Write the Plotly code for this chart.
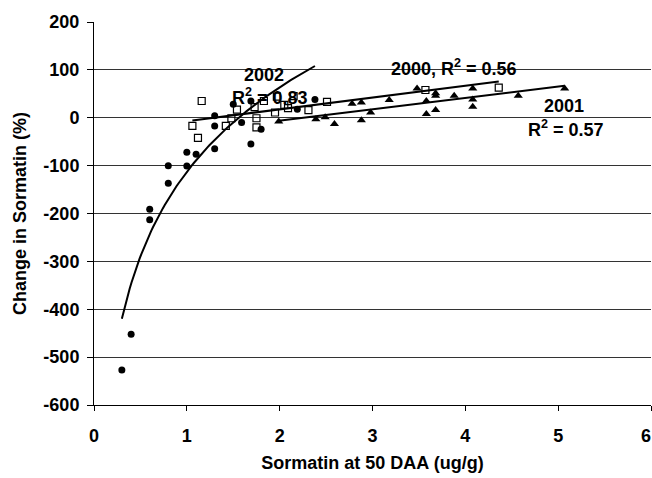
import numpy as np
import plotly.graph_objects as go

# 2002 (filled circles)
x2002 = [0.30, 0.40, 0.60, 0.60, 0.80, 0.80, 1.00, 1.00, 1.10, 1.30, 1.30, 1.30, 1.50, 1.59, 1.69, 1.69, 1.80, 2.19, 2.38]
y2002 = [-527, -452, -191, -213, -100, -137, -72, -101, -76, 4, -17, -65, 28, -10, 35, -55, -24, 18, 38]

# 2000 (open squares)
x2000 = [1.06, 1.12, 1.16, 1.42, 1.48, 1.54, 1.73, 1.75, 1.75, 1.83, 1.95, 1.97, 2.05, 2.09, 2.15, 2.31, 2.51, 3.57, 4.36]
y2000 = [-17, -42, 35, -17, -1, 17, 22, -1, -20, 35, 11, 44, 27, 20, 45, 16, 33, 58, 63]

# 2001 (filled triangles)
x2001 = [1.99, 2.39, 2.49, 2.59, 2.78, 2.88, 2.88, 2.98, 3.18, 3.48, 3.58, 3.58, 3.68, 3.68, 3.68, 3.88, 4.08, 4.08, 4.08, 4.57, 5.07]
y2001 = [-8, -3, 1, -13, 29, 32, -5, 11, 37, 61, 35, 8, 51, 46, 16, 46, 61, 38, 23, 46, 61]

# logarithmic trendline of 2002: y = a + b*ln(x)
fit2002 = [-113, 255]

xticks = [0, 1, 2, 3, 4, 5, 6]
yticks = [200, 100, 0, -100, -200, -300, -400, -500, -600]

FONT = "Liberation Sans, Arial, sans-serif"
FS = 18

fig = go.Figure()

xs = np.linspace(min(x2002), max(x2002), 100)
fig.add_trace(go.Scatter(x=xs, y=fit2002[0] + fit2002[1] * np.log(xs), mode="lines",
                         line=dict(color="black", width=2), hoverinfo="skip"))
for xd, yd in [(x2000, y2000), (x2001, y2001)]:
    m, c = np.polyfit(xd, yd, 1)
    xl = np.array([min(xd), max(xd)])
    fig.add_trace(go.Scatter(x=xl, y=m * xl + c, mode="lines",
                             line=dict(color="black", width=2), hoverinfo="skip"))

fig.add_trace(go.Scatter(x=x2002, y=y2002, mode="markers",
                         marker=dict(symbol="circle", size=7, color="black")))
fig.add_trace(go.Scatter(x=x2000, y=y2000, mode="markers",
                         marker=dict(symbol="square-open", size=7, color="black",
                                     line=dict(width=1.2, color="black"))))
fig.add_trace(go.Scatter(x=x2001, y=y2001, mode="markers",
                         marker=dict(symbol="triangle-up", size=8, color="black")))

ann = dict(showarrow=False, font=dict(family=FONT, size=FS, color="black"),
           xref="x", yref="y")
fig.add_annotation(x=1.83, y=89, text="<b>2002</b>", **ann)
fig.add_annotation(x=1.90, y=45, text="<b>R<sup>2</sup> = 0.83</b>", **ann)
fig.add_annotation(x=3.88, y=104, text="<b>2000, R<sup>2</sup> = 0.56</b>", **ann)
fig.add_annotation(x=5.06, y=24, text="<b>2001</b>", **ann)
fig.add_annotation(x=5.08, y=-22, text="<b>R<sup>2</sup> = 0.57</b>", **ann)

# last x tick label sits at the page edge
xtext = ["<b>%d</b>" % v for v in xticks]
xtext[-1] = ""
fig.add_annotation(x=xticks[-1], y=0, xref="x", yref="paper", yanchor="top",
                   xanchor="right", xshift=2, yshift=-19, showarrow=False,
                   text="<b>%d</b>" % xticks[-1],
                   font=dict(family=FONT, size=FS, color="black"))

fig.update_layout(
    width=652, height=478,
    margin=dict(l=94, r=1, t=22, b=73),
    plot_bgcolor="white", paper_bgcolor="white",
    showlegend=False,
    font=dict(family=FONT, size=FS, color="black"),
    xaxis=dict(range=[0, 6], tickvals=xticks, ticktext=xtext, ticks="outside",
               ticklen=5, tickwidth=1, tickcolor="black", showgrid=False,
               zeroline=False, showline=True, linecolor="black", linewidth=1,
               ticklabelstandoff=9,
               tickfont=dict(family=FONT, size=FS, color="black"),
               title=dict(text="<b>Sormatin at 50 DAA (ug/g)</b>", standoff=11,
                          font=dict(family=FONT, size=FS))),
    yaxis=dict(range=[-600, 200], tickvals=yticks,
               ticktext=["<b>%d</b>" % v for v in yticks], ticks="outside",
               ticklen=6, tickwidth=1, tickcolor="black", showgrid=True,
               gridcolor="#333333", gridwidth=1, zeroline=False, showline=True,
               linecolor="black", linewidth=1, ticklabelstandoff=4,
               tickfont=dict(family=FONT, size=FS, color="black"),
               title=dict(text="<b>Change in Sormatin (%)</b>", standoff=12,
                          font=dict(family=FONT, size=FS))),
)

fig.write_html("out.html")
